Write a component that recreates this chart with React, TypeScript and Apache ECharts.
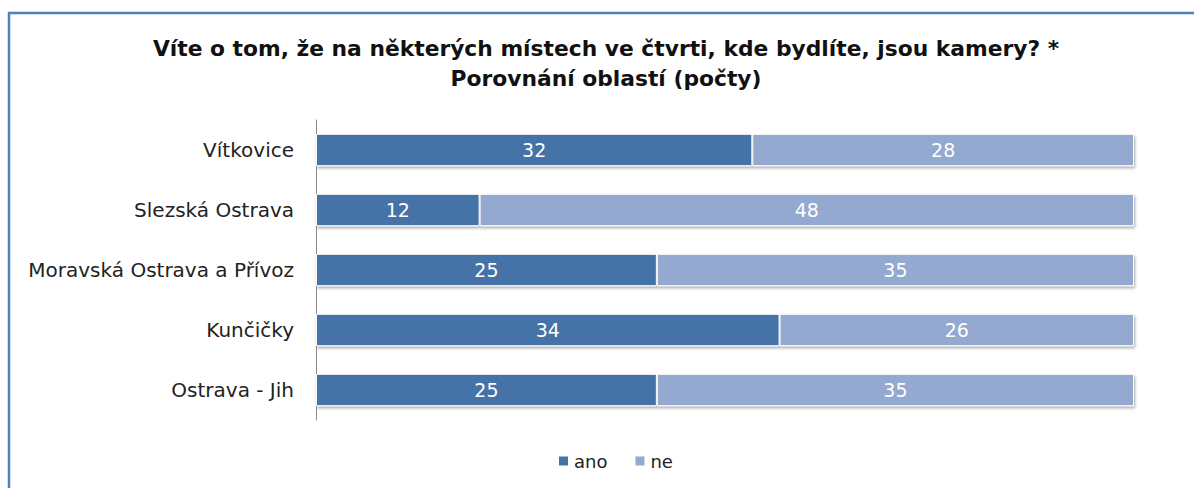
import React, { useEffect, useRef } from "react";
import * as echarts from "echarts";

const categories = ["Vítkovice", "Slezská Ostrava", "Moravská Ostrava a Přívoz", "Kunčičky", "Ostrava - Jih"];
const anoValues = [32, 12, 25, 34, 25];
const neValues = [28, 48, 35, 26, 35];
const titleLines = ["Víte o tom, že na některých místech ve čtvrti, kde bydlíte, jsou kamery? *", "Porovnání oblastí (počty)"];

const FONT = "DejaVu Sans";

export default function App() {
  const ref = useRef<HTMLDivElement>(null);
  useEffect(() => {
    if (!ref.current) return;
    const chart = echarts.init(ref.current, null, { renderer: "svg" });
    const barStyle = (color: string) => ({
      color,
      borderColor: "#ffffff",
      borderWidth: 1,
      shadowColor: "rgba(0,0,0,0.35)",
      shadowBlur: 3,
      shadowOffsetY: 2,
      shadowOffsetX: 1,
    });
    const label = {
      show: true,
      position: "inside",
      color: "#ffffff",
      fontFamily: FONT,
      fontSize: 19,
    };
    chart.setOption({
      animation: false,
      backgroundColor: "#ffffff",
      title: {
        text: titleLines.join("\n"),
        left: 601,
        textAlign: "center",
        top: 28,
        textStyle: { fontFamily: FONT, fontWeight: "bold", fontSize: 21.8, color: "#111111", lineHeight: 30 },
      },
      legend: {
        bottom: 13,
        left: 552,
        itemWidth: 11,
        itemHeight: 11,
        itemGap: 26,
        icon: "rect",
        textStyle: { fontFamily: FONT, fontSize: 18, color: "#222222" },
        data: ["ano", "ne"],
      },
      grid: { left: 316, right: 60, top: 120, bottom: 68, containLabel: false },
      xAxis: { type: "value", min: 0, max: 60, show: false },
      yAxis: {
        type: "category",
        data: categories,
        inverse: true,
        axisLine: { show: true, lineStyle: { color: "#8c8c8c", width: 1 } },
        axisTick: { show: false },
        axisLabel: { fontFamily: FONT, fontSize: 20, color: "#222222", margin: 22 },
      },
      series: [
        { name: "ano", type: "bar", stack: "t", data: anoValues, barCategoryGap: "46%", itemStyle: barStyle("#4572A7"), label },
        { name: "ne", type: "bar", stack: "t", data: neValues, barCategoryGap: "46%", itemStyle: barStyle("#93A9CF"), label },
      ],
      graphic: [
        { type: "line", shape: { x1: 9, y1: 12, x2: 9, y2: 488 }, style: { stroke: "#4F81BD", lineWidth: 2.5 } },
        { type: "line", shape: { x1: 8, y1: 13, x2: 1194, y2: 13 }, style: { stroke: "#4F81BD", lineWidth: 2.5 } },
      ],
    });
    return () => chart.dispose();
  }, []);
  return <div ref={ref} style={{ position: "absolute", left: 0, top: 0, width: 1194, height: 488 }} />;
}
